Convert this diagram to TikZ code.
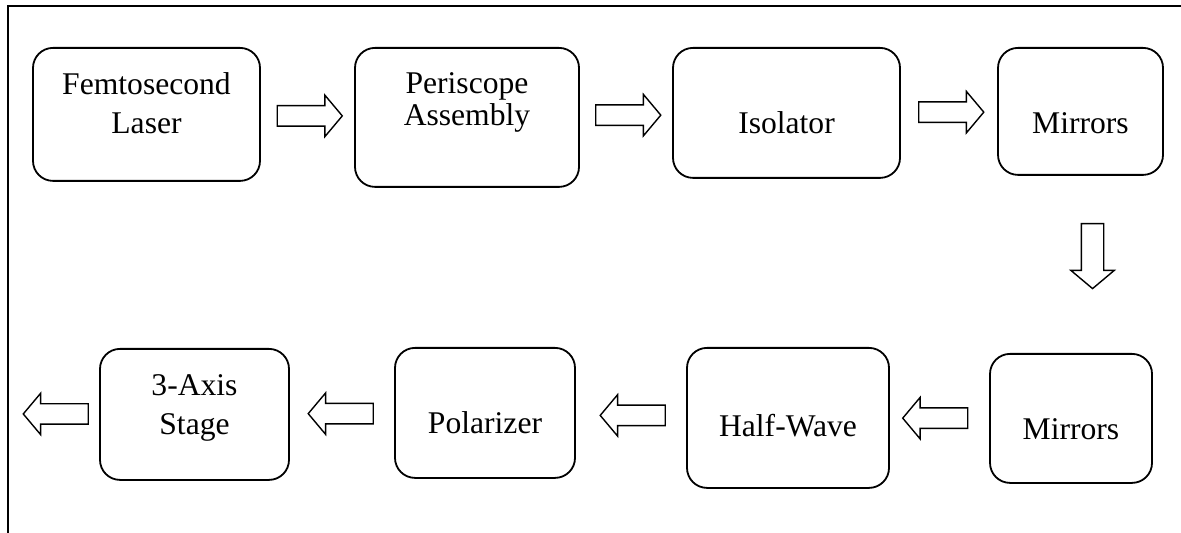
\documentclass[tikz,border=0pt]{standalone}
\usepackage{fontspec}
\setmainfont{Liberation Serif}
\usetikzlibrary{shapes.arrows}

\begin{document}
\begin{tikzpicture}[
	x=0.5pt, y=-0.5pt,
	process/.style={
		draw,
		rectangle,
		rounded corners=10pt,
		align=center,
		anchor=north,
		inner sep=0pt,
		line width=0.9pt,
		text height=43pt,
		font=\rmfamily\fontsize{15.8pt}{19.5pt}\selectfont
	},
	flow/.style={
		draw,
		single arrow,
		line width=0.7pt,
		minimum height=32.5pt,
		inner xsep=0pt,
		inner ysep=4.75pt,
		single arrow head extend=5.25pt,
		single arrow tip angle=100
	},
	flow_down/.style={
		flow,
		shape border rotate=270,
		inner xsep=5.25pt,
		inner ysep=0pt
	}
	]
	\useasboundingbox (0,0) rectangle (1181,533);
	\draw[line width=1pt] (8,533) -- (8,6) -- (1181,6);
	
	% upper row
	\node (laser) [process, minimum width=113.5pt, text depth=23.5pt] at (146.5,47) {Femtosecond\\Laser};
	\node (periscope) [process, minimum width=112pt, text height=39pt, text depth=30.5pt,
		font=\rmfamily\fontsize{15.8pt}{16pt}\selectfont] at (467,47) {Periscope\\Assembly};
	\node (isolator) [process, minimum width=113.5pt, text depth=22pt] at (786.5,47) {Isolator};
	\node (mirrors_top) [process, minimum width=82.5pt, text depth=20.5pt] at (1080.5,47) {Mirrors};
	
	% lower row
	\node (mirrors_bottom) [process, minimum width=81pt, text depth=21.5pt] at (1071,353) {Mirrors};
	\node (halfwave) [process, minimum width=101pt, text height=44.5pt, text depth=25.5pt] at (788,347) {Half-Wave};
	\node (polarizer) [process, minimum width=90pt, text depth=22pt] at (485,347) {Polarizer};
	\node (stage) [process, minimum width=94.5pt, text depth=22.5pt] at (194.5,348) {3-Axis\\Stage};
	\coordinate (exit) at (13,413.5);
	
	% block arrows
	\path (laser.east) -- node[flow, xshift=-1pt]{} (periscope.west);
	\path (periscope.east) -- node[flow, xshift=-1pt]{} (isolator.west);
	\path (isolator.east) -- node[flow, xshift=-1pt]{} (mirrors_top.west);
	\path (mirrors_top.south) -- node[flow_down, xshift=8.4pt, yshift=6.5pt]{} (mirrors_bottom.north);
	\path (mirrors_bottom.west) -- node[flow, shape border rotate=180]{} (halfwave.east);
	\path (halfwave.west) -- node[flow, shape border rotate=180, xshift=3pt]{} (polarizer.east);
	\path (polarizer.west) -- node[flow, shape border rotate=180, xshift=1.5pt]{} (stage.east);
	\path (stage.west) -- node[flow, shape border rotate=180, xshift=2pt]{} (exit);
	
\end{tikzpicture}
\end{document}
